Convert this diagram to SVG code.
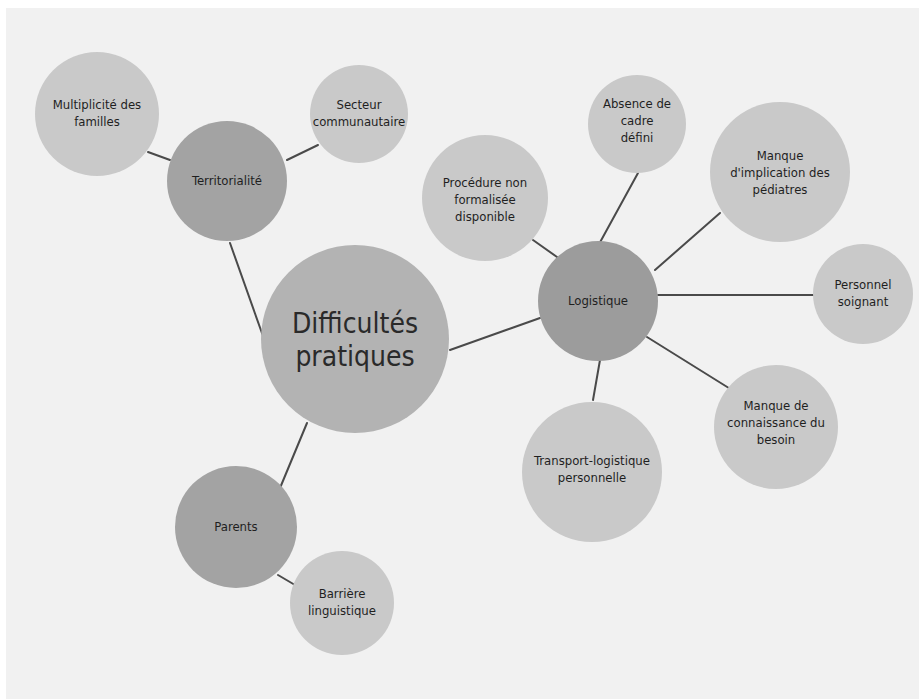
<svg xmlns="http://www.w3.org/2000/svg" width="919" height="699" viewBox="0 0 919 699">
<style>
.bg{fill:#f1f1f1}
.c0{fill:#b3b3b3}
.hub{fill:#a3a3a3}
.hub2{fill:#9c9c9c}
.leaf{fill:#c9c9c9}
.conn line{stroke:#4a4a4a;stroke-width:2;stroke-linecap:round}
text{font-family:"DejaVu Sans Condensed","DejaVu Sans",sans-serif;fill:#1f1f1f;text-anchor:middle;font-size:13px}
.big{font-size:28px;fill:#2a2a2a}
</style>
<rect x="0" y="0" width="919" height="699" fill="#ffffff"/>
<rect class="bg" x="6" y="8" width="913" height="691"/>
<g id="connectors" class="conn">
<line x1="230" y1="243" x2="263" y2="336"/>
<line x1="148" y1="152" x2="170" y2="160"/>
<line x1="287" y1="160" x2="318" y2="145"/>
<line x1="307" y1="423" x2="280" y2="488"/>
<line x1="278" y1="575" x2="295" y2="585"/>
<line x1="450" y1="350" x2="540" y2="318"/>
<line x1="533" y1="240" x2="557" y2="257"/>
<line x1="638" y1="173" x2="598" y2="246"/>
<line x1="720" y1="213" x2="655" y2="270"/>
<line x1="658" y1="295" x2="815" y2="295"/>
<line x1="647" y1="337" x2="732" y2="390"/>
<line x1="600" y1="360" x2="593" y2="400"/>
</g>
<g id="n-center"><circle class="c0" cx="355" cy="339" r="94"/><text class="big" x="355" y="333">Difficultés</text><text class="big" x="355" y="366">pratiques</text></g>
<g id="n-territorialite"><circle class="hub" cx="227" cy="181" r="60"/><text x="227" y="185">Territorialité</text></g>
<g id="n-multiplicite"><circle class="leaf" cx="97" cy="114" r="62"/><text x="97" y="109">Multiplicité des</text><text x="97" y="126">familles</text></g>
<g id="n-secteur"><circle class="leaf" cx="359" cy="114" r="49"/><text x="359" y="109">Secteur</text><text x="359" y="126">communautaire</text></g>
<g id="n-parents"><circle class="hub" cx="236" cy="527" r="61"/><text x="236" y="531">Parents</text></g>
<g id="n-barriere"><circle class="leaf" cx="342" cy="603" r="52"/><text x="342" y="598">Barrière</text><text x="342" y="615">linguistique</text></g>
<g id="n-logistique"><circle class="hub2" cx="598" cy="301" r="60"/><text x="598" y="305">Logistique</text></g>
<g id="n-procedure"><circle class="leaf" cx="485" cy="198" r="63"/><text x="485" y="187">Procédure non</text><text x="485" y="204">formalisée</text><text x="485" y="221">disponible</text></g>
<g id="n-absence"><circle class="leaf" cx="637" cy="124" r="49"/><text x="637" y="108">Absence de</text><text x="637" y="125">cadre</text><text x="637" y="142">défini</text></g>
<g id="n-implication"><circle class="leaf" cx="780" cy="172" r="70"/><text x="780" y="160">Manque</text><text x="780" y="177">d'implication des</text><text x="780" y="194">pédiatres</text></g>
<g id="n-personnel"><circle class="leaf" cx="863" cy="294" r="50"/><text x="863" y="289">Personnel</text><text x="863" y="306">soignant</text></g>
<g id="n-connaissance"><circle class="leaf" cx="776" cy="427" r="62"/><text x="776" y="410">Manque de</text><text x="776" y="427">connaissance du</text><text x="776" y="444">besoin</text></g>
<g id="n-transport"><circle class="leaf" cx="592" cy="472" r="70"/><text x="592" y="465">Transport-logistique</text><text x="592" y="482">personnelle</text></g>
</svg>
